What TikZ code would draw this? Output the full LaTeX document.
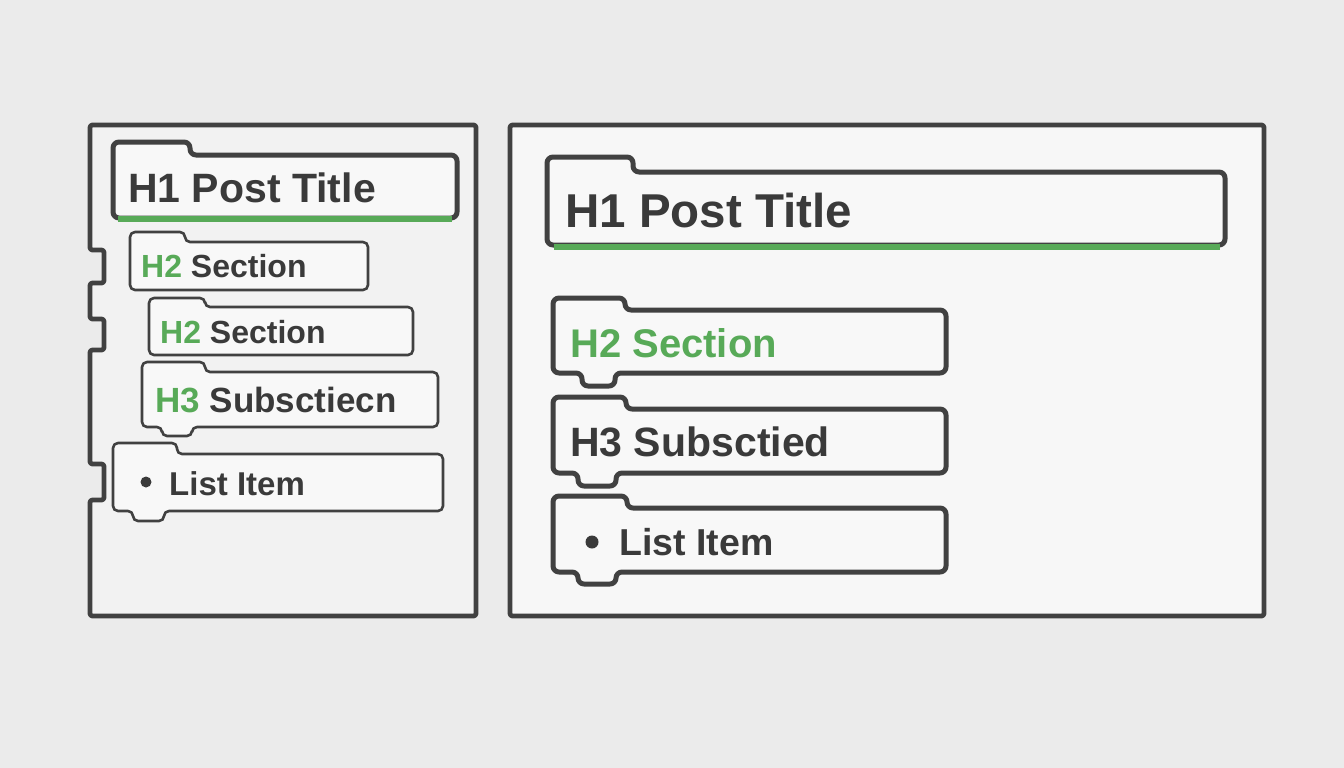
\documentclass[tikz,border=0pt]{standalone}
\usepackage{fontspec}
\setmainfont{Liberation Sans}
\definecolor{bg}{HTML}{EBEBEB}
\definecolor{panelL}{HTML}{F2F2F2}
\definecolor{panelR}{HTML}{F7F7F7}
\definecolor{boxfill}{HTML}{F8F8F8}
\definecolor{ink}{HTML}{414141}
\definecolor{txt}{HTML}{3A3A3A}
\definecolor{grn}{HTML}{58AA58}
\tikzset{
  panel/.style={draw=ink, line width=4.8pt, rounded corners=2.5pt, line join=round},
  boxthick/.style={draw=ink, fill=boxfill, line width=5pt, rounded corners=6pt, line join=round},
  boxthin/.style={draw=ink, fill=boxfill, line width=2.6pt, rounded corners=5pt, line join=round},
  greenline/.style={draw=grn, line width=6pt},
  lbl/.style={anchor=base west, inner sep=0pt, text=txt, font=\fontsize{#1}{#1}\selectfont\bfseries},
  dot/.style={circle, fill=txt, inner sep=0pt, minimum size=#1}
}
\begin{document}
\begin{tikzpicture}[x=1pt,y=-1pt]
\fill[bg] (0,0) rectangle (1344,768);
\useasboundingbox (0,0) rectangle (1344,768);

% left panel
\filldraw[panel, fill=panelL] (90,125) -- (476,125) -- (476,616) -- (90,616) -- (90,500) -- (104,500) -- (104,464) -- (90,464)
  -- (90,350) -- (104,350) -- (104,319) -- (90,319) -- (90,283) -- (104,283) -- (104,250) -- (90,250) -- cycle;
% right panel
\filldraw[panel, fill=panelR] (510,125) rectangle (1264,616);

% ---- left boxes ----
\path[boxthick] (113,218) -- (113,142) -- (190,142) -- (190,155) -- (457,155) -- (457,218) -- cycle;
\draw[greenline] (118,219) -- (452,219);
\node[lbl=41] (lh1) at (128,202) {H1 Post Title};

\path[boxthin] (130,290) -- (130,232) -- (185,232) -- (185,242) -- (368,242) -- (368,290) -- cycle;
\node[lbl=32] (lh2a) at (141,277) {\textcolor{grn}{H2} Section};

\path[boxthin] (149,355) -- (149,298) -- (205,298) -- (205,307) -- (413,307) -- (413,355) -- cycle;
\node[lbl=32] (lh2b) at (160,343) {\textcolor{grn}{H2} Section};

\path[boxthin] (142,427) -- (142,362) -- (205,362) -- (205,372) -- (438,372) -- (438,427) -- (192,427) -- (192,436) -- (162,436) -- (162,427) -- cycle;
\node[lbl=35] (lh3) at (155,412) {\textcolor{grn}{H3} Subsctiecn};

\path[boxthin] (113,511) -- (113,443) -- (177,443) -- (177,454) -- (443,454) -- (443,511) -- (164,511) -- (164,521) -- (133,521) -- (133,511) -- cycle;
\node[dot=11pt] (lb) at (146,482) {};
\node[lbl=33] (lli) at (169,495) {List Item};

% ---- right boxes ----
\path[boxthick] (547,245) -- (547,157) -- (633,157) -- (633,172) -- (1225,172) -- (1225,245) -- cycle;
\draw[greenline] (554,247) -- (1220,247);
\node[lbl=47.5] (rh1) at (565,227) {H1 Post Title};

\path[boxthick] (553,373) -- (553,298) -- (625,298) -- (625,310) -- (946,310) -- (946,373) -- (615,373) -- (615,386) -- (582,386) -- (582,373) -- cycle;
\node[lbl=40, text=grn] (rh2) at (570,357) {H2 Section};

\path[boxthick] (553,473) -- (553,397) -- (626,397) -- (626,409) -- (946,409) -- (946,473) -- (616,473) -- (616,486) -- (578,486) -- (578,473) -- cycle;
\node[lbl=41] (rh3) at (570,456) {H3 Subsctied};

\path[boxthick] (553,572) -- (553,496) -- (627,496) -- (627,508) -- (946,508) -- (946,572) -- (616,572) -- (616,584) -- (578,584) -- (578,572) -- cycle;
\node[dot=13pt] (rb) at (592,542) {};
\node[lbl=37.5] (rli) at (619,555) {List Item};
\end{tikzpicture}
\end{document}
